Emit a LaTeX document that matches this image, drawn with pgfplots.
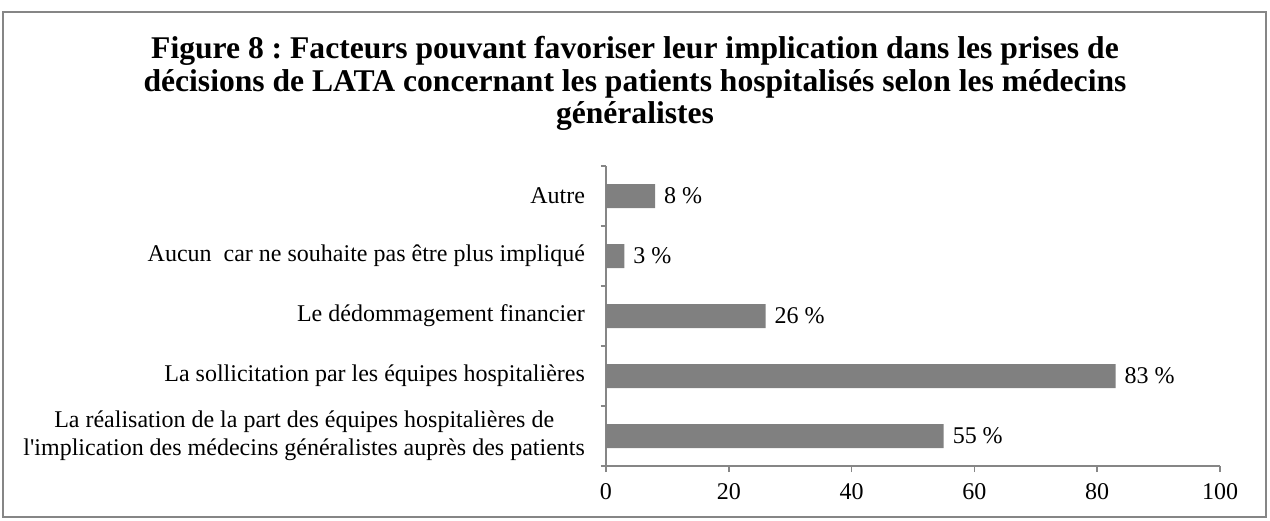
\documentclass[border=0pt]{standalone}
\usepackage{fontspec}
\setmainfont{Liberation Serif}
\usepackage{pgfplots}
\pgfplotsset{compat=1.18}
\definecolor{barfill}{RGB}{128,128,128}
\definecolor{axisgray}{RGB}{134,134,134}
\frenchspacing
\begin{document}
\begin{tikzpicture}
\path[use as bounding box] (0,0) rectangle (635pt,260pt);
\draw[axisgray, line width=0.8pt] (1.5pt,1.5pt) rectangle (633pt,254pt);
% anchor=base sits on the last line's baseline
\node[align=center, anchor=base, font=\fontsize{15.8}{16.4}\selectfont\bfseries] at (317.5pt,198pt)
  {Figure 8 : Facteurs pouvant favoriser leur implication dans les prises de\\
   décisions de LATA concernant les patients hospitalisés selon les médecins\\
   généralistes};
\begin{axis}[
    at={(303pt,27pt)}, anchor=south west,
    scale only axis,
    width=307pt, height=150pt,
    xbar, bar width=12pt,
    xmin=0, xmax=100,
    xtick={0,20,40,60,80,100},
    ymin=-0.5, ymax=4.5,
    y dir=reverse,
    ytick={0,1,2,3,4},
    yticklabels={Autre,
      Aucun\ \ car ne souhaite pas être plus impliqué,
      Le dédommagement financier,
      La sollicitation par les équipes hospitalières,
      {La réalisation de la part des équipes hospitalières de\\l\textquotesingle implication des médecins généralistes auprès des patients}},
    yticklabel style={align=center, font=\fontsize{12}{14}\selectfont, xshift=-4pt},
    minor ytick={-0.5,0.5,1.5,2.5,3.5,4.5},
    major y tick style={draw=none},
    minor tick length=2.5pt,
    major tick length=3pt,
    tick align=outside,
    axis x line*=bottom, axis y line*=left,
    axis line style={axisgray, line width=0.8pt},
    tick style={axisgray, line width=0.8pt},
    xticklabel style={font=\fontsize{12}{14}\selectfont, yshift=-2pt},
    /pgf/number format/assume math mode=true,
    nodes near coords={\pgfmathprintnumber{\pgfplotspointmeta}~\%},
    nodes near coords align={horizontal},
    every node near coord/.append style={font=\fontsize{12}{14}\selectfont, black, xshift=1pt},
    clip=false,
]
\addplot[fill=barfill, draw=none] coordinates {
    (8,0) (3,1) (26,2) (83,3) (55,4)
};
\end{axis}
\end{tikzpicture}
\end{document}
